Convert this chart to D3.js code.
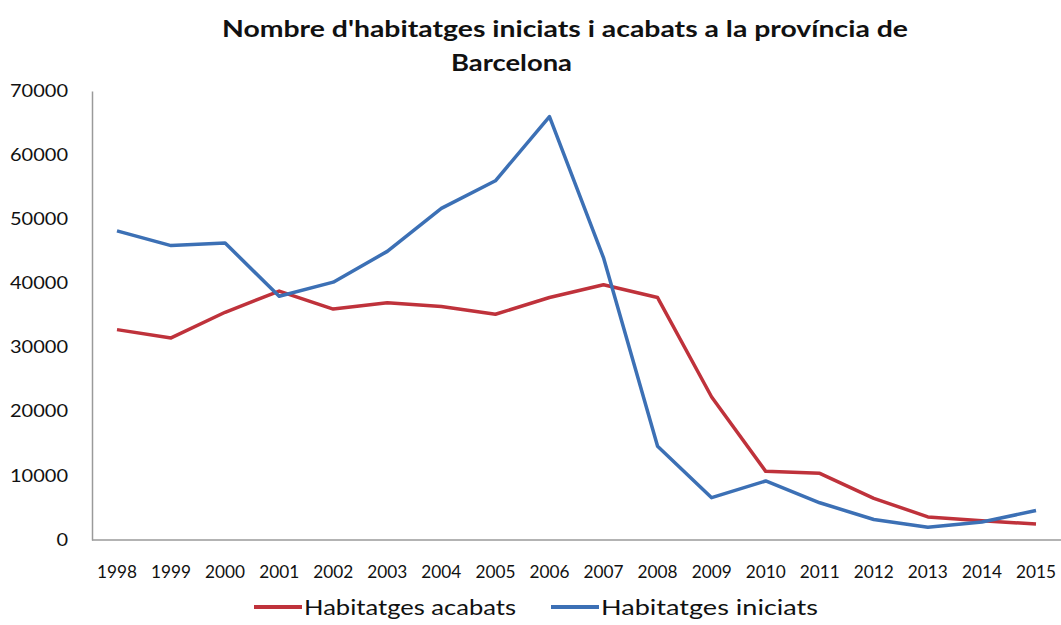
<!DOCTYPE html>
<html lang="ca">
<head>
<meta charset="utf-8">
<title>Habitatges Barcelona</title>
<script src="https://d3js.org/d3.v7.min.js"></script>
<style>
  body { margin: 0; background: #fff; }
  text { font-family: Lato, "Open Sans", sans-serif; fill: #111; }
</style>
</head>
<body>
<script>
// years on the x axis
var years = ["1998","1999","2000","2001","2002","2003","2004","2005","2006",
             "2007","2008","2009","2010","2011","2012","2013","2014","2015"];
// housing completed (red)
var acabats = [32800, 31500, 35500, 38800, 36000, 37000, 36400, 35200, 37800,
               39800, 37800, 22300, 10700, 10400, 6500, 3600, 3000, 2500];
// housing started (blue)
var iniciats = [48200, 45900, 46300, 38000, 40200, 45000, 51700, 56000, 66000,
                44000, 14600, 6600, 9200, 5800, 3200, 2000, 2800, 4600];
var yTicks = [0, 10000, 20000, 30000, 40000, 50000, 60000, 70000];

var w = 1061, h = 625;

var svg = d3.select("body").append("svg")
    .attr("width", w)
    .attr("height", h);

var x = d3.scalePoint()
    .domain(years)
    .range([117, 1036]);

var y = d3.scaleLinear()
    .domain([0, 70000])
    .range([540, 91]);

// title (the original is a bit stretched sideways, so fix the widths)
svg.append("text")
    .attr("x", 222).attr("y", 37)
    .attr("textLength", 686).attr("lengthAdjust", "spacingAndGlyphs")
    .style("font-size", "22px").style("font-weight", "bold")
    .text("Nombre d'habitatges iniciats i acabats a la província de");
svg.append("text")
    .attr("x", 451).attr("y", 71)
    .attr("textLength", 121).attr("lengthAdjust", "spacingAndGlyphs")
    .style("font-size", "22px").style("font-weight", "bold")
    .text("Barcelona");

// y axis
var yAxis = svg.append("g")
    .attr("transform", "translate(92,0)")
    .call(d3.axisLeft(y).tickValues(yTicks).tickSize(0).tickPadding(24)
          .tickFormat(d3.format("d")));
yAxis.select(".domain").attr("stroke", "#9a9a9a").attr("stroke-width", 1.5);
yAxis.selectAll("text")
    .style("font-size", "16.5px")
    .attr("fill", "#111")
    .attr("textLength", function(d) { return String(d).length * 11.6; })
    .attr("lengthAdjust", "spacingAndGlyphs");

// x axis
var xAxis = svg.append("g")
    .attr("transform", "translate(0,540)");
xAxis.append("line")
    .attr("x1", 92).attr("x2", w)
    .attr("stroke", "#9a9a9a").attr("stroke-width", 1.5);
xAxis.selectAll("text")
    .data(years)
    .enter()
    .append("text")
    .attr("x", function(d) { return x(d); })
    .attr("y", 38)
    .attr("text-anchor", "middle")
    .attr("textLength", 40).attr("lengthAdjust", "spacingAndGlyphs")
    .style("font-size", "16.5px")
    .text(function(d) { return d; });

var line = d3.line()
    .x(function(d, i) { return x(years[i]); })
    .y(function(d) { return y(d); });

var series = [
    { name: "Habitatges acabats", values: acabats, color: "#bf323b" },
    { name: "Habitatges iniciats", values: iniciats, color: "#3c70b5" }
];

svg.selectAll("path.serie")
    .data(series)
    .enter()
    .append("path")
    .attr("class", "serie")
    .attr("d", function(d) { return line(d.values); })
    .attr("fill", "none")
    .attr("stroke", function(d) { return d.color; })
    .attr("stroke-width", 3.5)
    .attr("stroke-linejoin", "round");

// legend
var legendX = [254, 551];
var legendLen = [212, 217];
var legend = svg.selectAll("g.legend")
    .data(series)
    .enter()
    .append("g")
    .attr("class", "legend")
    .attr("transform", function(d, i) { return "translate(" + legendX[i] + ",607)"; });
legend.append("line")
    .attr("x1", 0).attr("x2", 48)
    .attr("stroke", function(d) { return d.color; })
    .attr("stroke-width", 4);
legend.append("text")
    .attr("x", 50).attr("y", 8)
    .attr("textLength", function(d, i) { return legendLen[i]; })
    .attr("lengthAdjust", "spacingAndGlyphs")
    .style("font-size", "22px")
    .text(function(d) { return d.name; });
</script>
</body>
</html>
